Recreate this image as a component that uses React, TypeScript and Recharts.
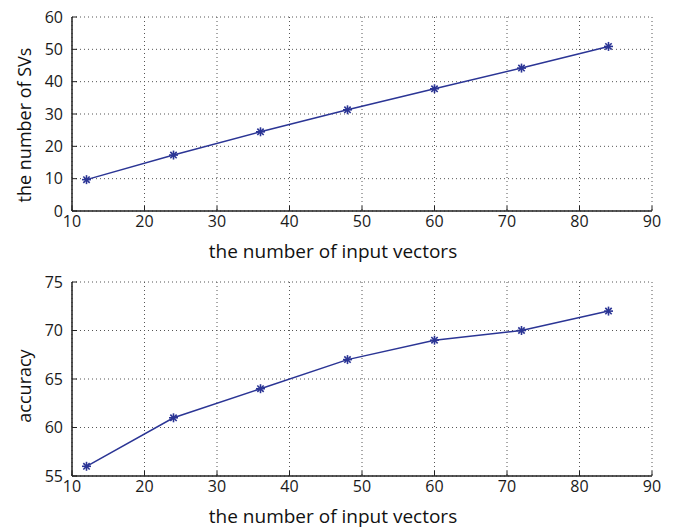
import { LineChart, Line, XAxis, YAxis, CartesianGrid } from "recharts";

const inputVectors = [12, 24, 36, 48, 60, 72, 84];
const svCounts = [9.7, 17.3, 24.5, 31.3, 37.8, 44.2, 50.9];
const accuracy = [56, 61, 64, 67, 69, 70, 72];

const xTicks = [10, 20, 30, 40, 50, 60, 70, 80, 90];
const svTicks = [0, 10, 20, 30, 40, 50, 60];
const accTicks = [55, 60, 65, 70, 75];

const svData = inputVectors.map((x, i) => ({ x, y: svCounts[i] }));
const accData = inputVectors.map((x, i) => ({ x, y: accuracy[i] }));

const LINE = "#2b3595";
const AXIS = "#222";
const FONT = "'Open Sans', sans-serif";

const Star = (props: any) => {
    const { cx, cy, index } = props;
    const r = 4.5;
    const d = r * 0.707;
    return (
        <g key={`star-${index}`} stroke={LINE} strokeWidth={1.6}>
            <line x1={cx - r} y1={cy} x2={cx + r} y2={cy} />
            <line x1={cx} y1={cy - r} x2={cx} y2={cy + r} />
            <line x1={cx - d} y1={cy - d} x2={cx + d} y2={cy + d} />
            <line x1={cx - d} y1={cy + d} x2={cx + d} y2={cy - d} />
        </g>
    );
};

const tickStyle = { fontSize: 16, fill: "#1a1a1a", fontFamily: FONT };

function Panel({ data, yTicks, yLabel, top, labelShift }: { data: any[]; yTicks: number[]; yLabel: string; top: number; labelShift: number }) {
    const yDomain = [yTicks[0], yTicks[yTicks.length - 1]];

    // x label sits a bit left of the plot centre in the original
    const xLabel = ({ viewBox }: any) => {
        const cx = viewBox.x + viewBox.width / 2 - 29;
        return (
            <text x={cx} y={viewBox.y + 47} textAnchor="middle" fontSize={19} fill="#111" fontFamily={FONT}>
                the number of input vectors
            </text>
        );
    };

    const yLab = ({ viewBox }: any) => {
        const cy = viewBox.y + viewBox.height / 2 + labelShift;
        return (
            <text x={31} y={cy} transform={`rotate(-90, 31, ${cy})`} textAnchor="middle" fontSize={18} fill="#111" fontFamily={FONT}>
                {yLabel}
            </text>
        );
    };

    return (
        <div style={{ position: "absolute", left: 0, top, width: 676, height: 264 }}>
            <LineChart width={676} height={264} data={data} margin={{ top: 17, right: 24, bottom: 23, left: 12 }}>
                <CartesianGrid stroke="#555" strokeDasharray="1 3" horizontalValues={yTicks} verticalValues={xTicks} />
                <XAxis
                    dataKey="x"
                    type="number"
                    domain={[10, 90]}
                    ticks={xTicks}
                    height={30}
                    tickSize={-5}
                    tickMargin={10}
                    tick={tickStyle}
                    axisLine={{ stroke: AXIS, strokeWidth: 1.5 }}
                    tickLine={{ stroke: AXIS }}
                    label={xLabel}
                    allowDataOverflow
                />
                <XAxis
                    xAxisId="top"
                    orientation="top"
                    dataKey="x"
                    type="number"
                    domain={[10, 90]}
                    ticks={xTicks}
                    height={0}
                    tickSize={-5}
                    tick={false}
                    axisLine={{ stroke: AXIS, strokeWidth: 1.5 }}
                    tickLine={{ stroke: AXIS }}
                />
                <YAxis
                    type="number"
                    domain={yDomain}
                    ticks={yTicks}
                    width={60}
                    tickSize={-5}
                    tickMargin={14}
                    tick={tickStyle}
                    axisLine={{ stroke: AXIS, strokeWidth: 1.5 }}
                    tickLine={{ stroke: AXIS }}
                    label={yLab}
                    allowDataOverflow
                />
                <YAxis
                    yAxisId="right"
                    orientation="right"
                    type="number"
                    domain={yDomain}
                    ticks={yTicks}
                    width={0}
                    tickSize={-5}
                    tick={false}
                    axisLine={{ stroke: AXIS, strokeWidth: 1.5 }}
                    tickLine={{ stroke: AXIS }}
                />
                <Line
                    type="linear"
                    dataKey="y"
                    stroke={LINE}
                    strokeWidth={1.5}
                    dot={Star}
                    activeDot={false}
                    isAnimationActive={false}
                />
            </LineChart>
        </div>
    );
}

export default function App() {
    return (
        <div style={{ position: "absolute", left: 0, top: 0, width: 676, height: 529, background: "#fff" }}>
            <Panel data={svData} yTicks={svTicks} yLabel="the number of SVs" top={0} labelShift={11} />
            <Panel data={accData} yTicks={accTicks} yLabel="accuracy" top={265} labelShift={7} />
        </div>
    );
}
